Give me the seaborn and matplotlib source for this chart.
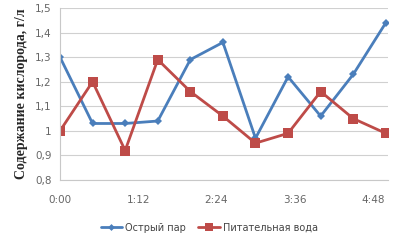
import matplotlib
matplotlib.use("Agg")
import matplotlib.pyplot as plt
import seaborn as sns
import pandas as pd
import numpy as np
from matplotlib.lines import Line2D

minutes = [0, 30, 60, 90, 120, 150, 180, 210, 240, 270, 300]
steam = [1.30, 1.03, 1.03, 1.04, 1.29, 1.36, 0.97, 1.22, 1.06, 1.23, 1.44]
water = [1.00, 1.20, 0.92, 1.29, 1.16, 1.06, 0.95, 0.99, 1.16, 1.05, 0.99]
series_names = ["Острый пар", "Питательная вода"]
xtick_minutes = [0, 72, 144, 216, 288]
xtick_labels = ["0:00", "1:12", "2:24", "3:36", "4:48"]
yticks = [0.8, 0.9, 1.0, 1.1, 1.2, 1.3, 1.4, 1.5]
ytick_labels = ["0,8", "0,9", "1", "1,1", "1,2", "1,3", "1,4", "1,5"]

df = pd.DataFrame({
    "t": minutes * 2,
    "v": steam + water,
    "s": [series_names[0]] * len(minutes) + [series_names[1]] * len(minutes),
})

sns.set_style("white")
plt.rcParams['font.family'] = ['DejaVu Sans']

fig = plt.figure(figsize=(4.06, 2.41), dpi=100)
ax = fig.add_axes([60/406, 61/241, 328/406, 172/241])

colors = {series_names[0]: "#4A7EBB", series_names[1]: "#BE4B48"}
sns.lineplot(data=df, x="t", y="v", hue="s", style="s", palette=colors,
             markers={series_names[0]: "D", series_names[1]: "s"}, dashes=False,
             linewidth=2, ax=ax, legend=False)
for line, ms in zip(ax.lines, [4, 7]):
    line.set_markersize(ms)
    line.set_markeredgewidth(0)

ax.set_xlim(0, 302)
ax.set_ylim(0.8, 1.5)
ax.set_yticks(yticks)
ax.set_yticklabels(ytick_labels, fontsize=7.5, color="#666666")
ax.set_xticks(xtick_minutes)
ax.set_xticklabels(xtick_labels, fontsize=7.5, color="#666666")
ax.grid(axis="y", color="#D0D0D0", linewidth=0.8)
ax.set_axisbelow(True)
for sp in ["top", "right"]:
    ax.spines[sp].set_visible(False)
ax.spines["left"].set_color("#C8C8C8")
ax.spines["bottom"].set_color("#C8C8C8")
ax.tick_params(axis="x", length=3, color="#C8C8C8", pad=8)
ax.tick_params(axis="y", length=0, pad=6)
ax.set_xlabel("")
ax.set_ylabel("Содержание кислорода, г/л", fontsize=10, fontweight="bold",
              family=["Liberation Serif", "DejaVu Serif"], labelpad=5)

handles = [Line2D([], [], color=colors[series_names[0]], marker="D", markersize=3.5, lw=2, markeredgewidth=0),
           Line2D([], [], color=colors[series_names[1]], marker="s", markersize=6, lw=2, markeredgewidth=0)]
fig.legend(handles, series_names, loc="center", bbox_to_anchor=(0.515, 0.055), ncol=2,
           frameon=False, fontsize=7, handlelength=2.2, columnspacing=1.3, handletextpad=0.3,
           labelcolor="#444444")

fig.savefig("out.png", dpi=100)
